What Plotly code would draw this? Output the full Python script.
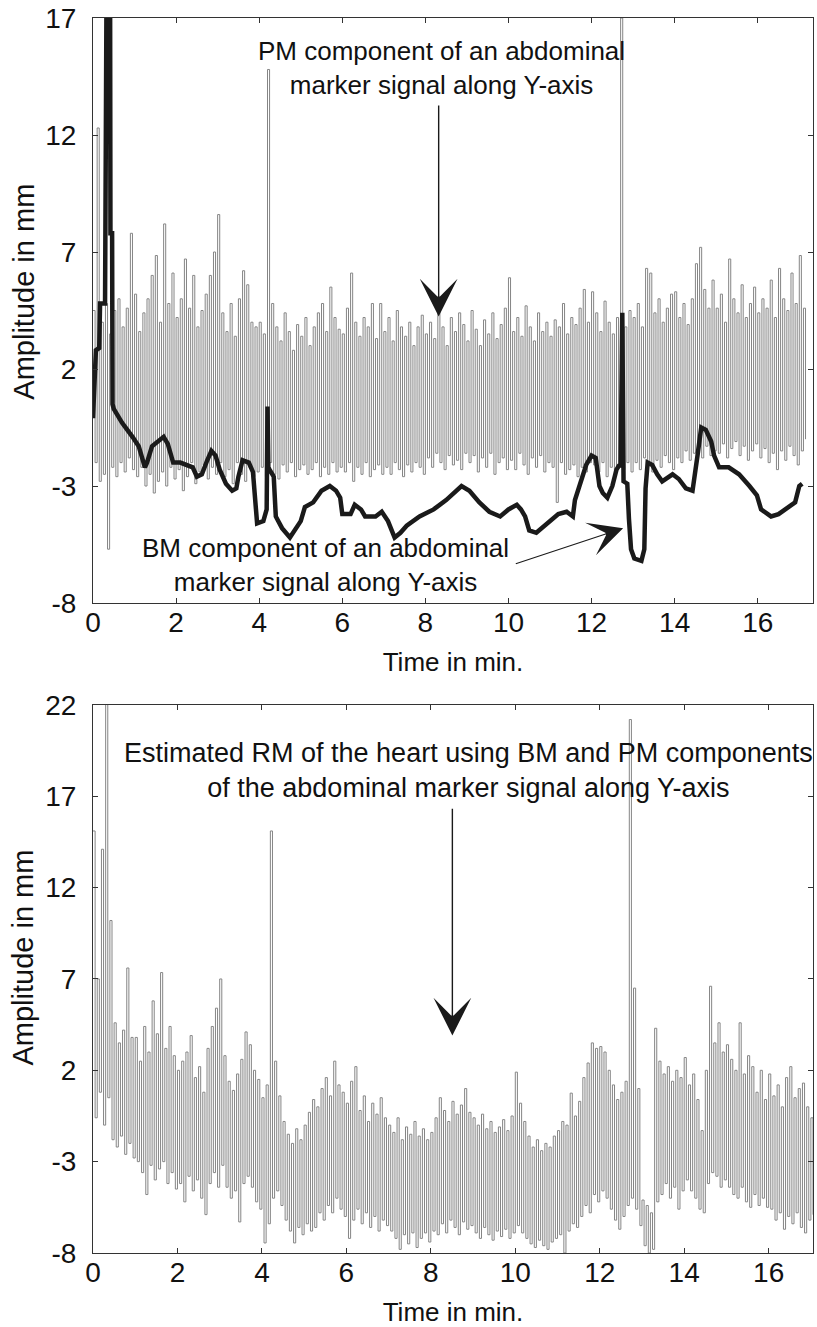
import plotly.graph_objects as go

# ---------------- data ----------------
CYCLE_MIN = 0.1  # spacing of the sampled breathing cycles, in minutes

# PM component (top panel, grey): peak / trough of each cycle
pm_peaks = [
    4.5, 12.3, 4.0, 4.8, 3.5, 4.5, 5.0, 3.8, 4.6, 7.8,
    5.2, 3.6, 4.4, 5.0, 6.0, 6.85, 4.0, 8.2, 4.8, 6.1,
    4.2, 5.0, 6.7, 4.6, 6.0, 3.8, 4.5, 5.2, 6.0, 7.0,
    8.6, 4.4, 3.6, 4.8, 3.4, 5.0, 6.2, 5.6, 4.0, 3.8,
    4.0, 3.5, 14.8, 4.8, 3.8, 3.2, 4.4, 3.6, 2.8, 3.9,
    3.4, 4.2, 3.0, 3.8, 4.4, 4.8, 3.6, 5.5, 4.2, 3.7,
    3.5, 4.6, 6.1, 4.0, 3.4, 4.2, 3.8, 4.8, 3.3, 4.8,
    3.6, 4.2, 3.2, 4.5, 3.8, 3.4, 4.0, 3.0, 3.8, 4.3,
    3.5, 4.0, 3.3, 4.5, 3.8, 3.0, 4.2, 3.6, 4.4, 3.9,
    3.2, 4.5, 3.7, 3.0, 4.1, 3.5, 4.4, 3.3, 3.9, 4.6,
    5.9, 3.6, 4.2, 3.4, 4.7, 3.8, 3.2, 4.4, 3.6, 4.0,
    3.4, 4.1, 3.8, 4.8, 3.5, 4.2, 3.9, 4.6, 5.4, 4.0,
    5.3, 4.4, 3.6, 4.9, 4.0, 3.5, 4.2, 17.0, 3.8, 4.5,
    4.2, 4.8, 3.8, 6.3, 6.1, 4.4, 5.0, 4.0, 4.6, 5.2,
    5.3, 4.2, 4.8, 3.9, 5.0, 6.5, 7.2, 5.4, 4.6, 5.8,
    4.6, 5.2, 4.0, 6.7, 5.0, 4.4, 5.6, 4.2, 4.8, 5.5,
    4.4, 5.0, 4.6, 5.8, 4.2, 6.3, 5.0, 4.5, 6.1, 4.8, 6.85, 4.6,
]
pm_troughs = [
    -2.0, -2.8, -2.5, -5.7, -2.2, -2.6, -2.0, -2.4, -1.8, -2.3,
    -2.6, -2.2, -3.0, -2.5, -3.3, -2.8, -2.4, -3.0, -2.2, -2.7,
    -2.3, -3.2, -2.6, -2.0, -2.9, -2.4, -2.1, -2.7, -2.2, -2.5,
    -2.0, -2.6, -2.3, -2.9, -2.0, -2.5, -2.8, -2.2, -2.6, -2.4,
    -2.2, -2.6, -2.0, -2.5, -2.7, -2.1, -2.4, -2.0, -2.6, -2.3,
    -2.1, -2.5, -2.3, -2.0, -2.6, -2.2, -2.5, -2.0, -2.4, -2.2,
    -2.4, -2.0, -2.8, -2.2, -2.5, -2.0, -2.6, -2.3, -2.1, -2.5,
    -2.2, -2.5, -2.0, -2.3, -2.6, -2.1, -2.4, -2.0, -2.2, -2.5,
    -1.8, -2.2, -1.6, -2.0, -2.3, -1.7, -2.1, -1.9, -2.3, -1.6,
    -2.0, -1.7, -2.4, -1.8, -2.2, -1.6, -2.5, -2.0, -1.8, -2.3,
    -1.9, -2.3, -1.6, -2.1, -2.5, -1.8, -2.2, -1.7, -2.4, -2.0,
    -2.2, -3.7, -2.0, -2.5, -2.3, -2.1, -2.6, -2.2, -2.4, -2.0,
    -2.1, -2.4, -2.0, -2.6, -2.2, -2.5, -2.1, -2.3, -2.0, -2.4,
    -2.0, -2.3, -1.8, -2.1, -2.4, -1.9, -2.2, -1.7, -2.0, -2.3,
    -1.8, -2.0, -1.5, -1.9, -1.6, -1.4, -1.8, -1.3, -1.7, -1.5,
    -1.6, -1.2, -1.8, -1.4, -1.1, -1.7, -1.3, -1.9, -1.5, -1.2,
    -1.8, -1.4, -2.0, -1.6, -2.3, -1.5, -1.9, -1.3, -1.7, -2.1, -1.5, -1.0,
]

# BM component (top panel, thick black)
bm_time = [
    0.0, 0.02, 0.03, 0.06, 0.07, 0.15, 0.17, 0.29, 0.31, 0.33, 0.41, 0.42,
    0.46, 0.47, 0.5, 0.7, 0.95, 1.1, 1.25, 1.3, 1.42, 1.55, 1.7, 1.8, 1.93,
    2.1, 2.25, 2.4, 2.5, 2.62, 2.75, 2.85, 2.95, 3.05, 3.2, 3.35, 3.45, 3.5,
    3.6, 3.75, 3.85, 3.9, 3.95, 4.1, 4.15, 4.18, 4.2, 4.22, 4.25, 4.35, 4.4,
    4.55, 4.74, 4.9, 5.0, 5.1, 5.3, 5.5, 5.7, 5.85, 5.95, 6.0, 6.2, 6.3,
    6.45, 6.55, 6.8, 6.95, 7.1, 7.26, 7.4, 7.55, 7.86, 8.2, 8.5, 8.87, 9.06,
    9.3, 9.54, 9.8, 10.0, 10.2, 10.3, 10.4, 10.5, 10.67, 10.95, 11.2, 11.4,
    11.55, 11.6, 11.75, 11.87, 12.0, 12.1, 12.19, 12.27, 12.38, 12.5, 12.6,
    12.67, 12.7, 12.72, 12.74, 12.77, 12.86, 12.9, 12.95, 13.03, 13.2, 13.27,
    13.3, 13.35, 13.46, 13.58, 13.7, 13.95, 14.1, 14.27, 14.43, 14.55, 14.64,
    14.75, 14.88, 14.95, 15.07, 15.3, 15.55, 15.8, 15.98, 16.08, 16.32, 16.5,
    16.67, 16.9, 17.0, 17.07,
]
bm_values = [
    -0.1, 1.1, 1.1, 2.6, 2.8, 2.9, 4.8, 4.8, 20.0, 20.0, 20.0, 7.8,
    7.8, 0.5, 0.3, -0.3, -0.9, -1.3, -2.2, -2.0, -1.3, -1.1, -0.9, -1.2, -2.0,
    -2.0, -2.1, -2.2, -2.6, -2.5, -1.9, -1.5, -1.7, -2.3, -2.9, -3.2, -3.1, -2.6,
    -1.9, -2.0, -2.4, -3.8, -4.6, -4.5, -4.1, -4.0, 0.4, -2.2, -2.3, -2.6, -4.3,
    -4.8, -5.2, -4.8, -4.5, -3.9, -3.7, -3.2, -3.0, -3.2, -3.5, -4.2, -4.2, -3.8,
    -4.0, -4.3, -4.3, -4.1, -4.5, -5.2, -5.0, -4.7, -4.3, -4.0, -3.6, -3.0, -3.2,
    -3.7, -4.1, -4.3, -4.0, -3.8, -4.0, -4.3, -4.9, -5.0, -4.6, -4.2, -4.1,
    -4.3, -3.6, -2.8, -2.1, -1.7, -1.8, -3.0, -3.3, -3.5, -3.0, -2.3,
    -2.1, -2.2, 4.4, 4.4, -2.8, -2.9, -4.4, -5.7, -6.1, -6.2, -5.7,
    -3.1, -2.0, -2.1, -2.5, -2.8, -2.5, -2.7, -3.1, -3.2, -1.7, -0.5,
    -0.6, -1.1, -1.7, -2.2, -2.2, -2.5, -3.0, -3.4, -4.0, -4.3, -4.2,
    -4.0, -3.7, -3.0, -2.9,
]

# Estimated RM of the heart (bottom panel): peak / trough of each cycle
rm_peaks = [
    15.1, 7.0, 14.1, 23.0, 10.2, 4.6, 3.5, 4.2, 7.6, 3.8,
    3.8, 2.5, 4.4, 3.0, 5.8, 4.0, 7.35, 3.2, 4.4, 2.8,
    2.0, 2.5, 3.0, 3.9, 1.6, 2.2, 0.8, 3.2, 4.4, 5.4,
    7.0, 2.8, 1.4, 0.9, 1.8, 2.6, 4.1, 3.4, 2.0, 1.5,
    0.5, 1.2, 15.1, 2.5, 0.6, -0.8, -1.5, -2.0, -1.2, -1.8,
    -1.0, -0.3, 0.4, 0.0, 1.0, 1.6, 0.6, 2.5, 1.2, 0.8,
    0.2, 1.4, 2.2, -0.2, 0.6, -0.8, 0.2, -0.4, 0.5, -0.6,
    -1.0, -1.4, -0.6, -1.8, -1.1, -1.5, -0.8, -1.6, -1.2, -1.8,
    -1.4, -0.6, 0.5, -0.2, -0.8, 0.3, -0.4, 0.1, 1.0, -0.3,
    -0.6, -1.0, -0.4, -1.2, -0.8, -1.4, -1.1, -0.7, -1.3, -0.5,
    1.9, 0.2, -0.8, -1.6, -2.2, -1.8, -2.4, -2.0, -2.2, -1.6,
    -1.3, -0.8, -1.0, 0.75, -0.5, 0.3, 1.6, 2.4, 3.5, 3.2,
    3.3, 3.0, 2.0, 1.2, 0.4, 0.8, 1.4, 21.2, 6.5, 1.0,
    -5.1, -5.4, -5.8, 4.3, 2.5, 1.8, 2.2, 1.4, 2.0, 1.6,
    2.7, 1.2, 1.8, 0.4, -1.3, 2.0, 6.6, 3.5, 4.6, 3.0,
    3.4, 2.6, 2.0, 4.6, 1.8, 2.8, 2.2, 0.8, 2.0, 0.4,
    1.8, 0.6, 1.2, 0.0, 1.6, 2.2, 0.5, 1.0, 1.3, 0.0, -0.6,
]
rm_troughs = [
    -0.6, 0.8, -1.0, 0.5, -1.8, -2.2, -1.6, -2.6, -2.0, -2.8,
    -3.0, -3.6, -4.8, -3.2, -4.0, -3.4, -3.0, -4.2, -3.6, -4.5,
    -4.2, -5.2, -3.8, -4.6, -4.0, -5.0, -5.9, -4.2, -3.6, -4.4,
    -3.2, -4.4, -5.0, -4.6, -6.3, -4.2, -3.8, -4.4, -5.2, -5.6,
    -7.45, -6.4, -5.0, -4.6, -5.4, -6.2, -6.8, -7.45, -6.6, -7.0,
    -6.4, -6.8, -6.6, -5.8, -6.2, -5.4, -5.8, -5.0, -5.6, -6.0,
    -7.2, -6.2, -5.6, -6.4, -5.8, -6.6, -6.0, -6.8, -6.2, -6.5,
    -6.8, -7.2, -7.8, -7.0, -7.5, -6.9, -7.7, -7.2, -6.9, -7.4,
    -6.8, -7.0, -6.4, -6.9, -6.2, -6.6, -7.0, -6.3, -6.7, -6.5,
    -6.9, -7.2, -6.6, -7.0, -7.3, -6.8, -7.1, -6.7, -7.2, -6.9,
    -6.5, -6.9, -7.2, -7.5, -7.7, -7.3, -7.6, -7.8, -7.4, -7.2,
    -7.0, -8.0, -6.8, -6.4, -6.6, -6.0, -5.4, -5.8, -4.8, -5.2,
    -4.6, -5.0, -5.6, -6.2, -6.7, -6.0, -5.4, -5.0, -5.6, -6.5,
    -7.6, -8.0, -7.8, -5.2, -4.8, -4.2, -5.0, -4.4, -5.6, -4.6,
    -4.0, -4.6, -5.0, -5.6, -5.8, -4.2, -3.6, -3.8, -4.4, -4.0,
    -4.4, -4.8, -5.0, -4.4, -5.2, -5.5, -4.8, -5.4, -5.0, -5.5,
    -5.6, -6.2, -5.8, -6.7, -6.0, -6.4, -5.8, -6.6, -6.9, -6.2, -5.9,
]

x_ticks = [0, 2, 4, 6, 8, 10, 12, 14, 16]
y_ticks_top = [-8, -3, 2, 7, 12, 17]
y_ticks_bottom = [-8, -3, 2, 7, 12, 17, 22]

TOP_TEXT = "PM component of an abdominal<br>marker signal along Y-axis"
BM_TEXT = "BM component of an abdominal<br>marker signal along Y-axis"
BOTTOM_TEXT = ("Estimated RM of the heart using BM and PM components<br>"
               "of the abdominal marker signal along Y-axis")
X_TITLE = "Time in min."
Y_TITLE = "Amplitude in mm"


def zigzag(peaks, troughs):
    xs, ys = [], []
    for i, (p, q) in enumerate(zip(peaks, troughs)):
        t = i * CYCLE_MIN
        xs += [t, t + CYCLE_MIN / 2]
        ys += [p, q]
    return xs, ys


FONT = "Arial, 'Liberation Sans', Helvetica, sans-serif"
GREY = "#858585"
AX = "#333333"

fig = go.Figure()

pm_x, pm_y = zigzag(pm_peaks, pm_troughs)
fig.add_trace(go.Scatter(x=pm_x, y=pm_y, mode="lines",
                         line=dict(color=GREY, width=1, shape="hv"),
                         xaxis="x", yaxis="y", showlegend=False))
fig.add_trace(go.Scatter(x=bm_time, y=bm_values, mode="lines",
                         line=dict(color="#1a1a1a", width=4.5),
                         xaxis="x", yaxis="y", showlegend=False))

rm_x, rm_y = zigzag(rm_peaks, rm_troughs)
fig.add_trace(go.Scatter(x=rm_x, y=rm_y, mode="lines",
                         line=dict(color=GREY, width=1, shape="hv"),
                         xaxis="x2", yaxis="y2", showlegend=False))

axis_common = dict(showline=True, linecolor=AX, linewidth=1, mirror="ticks",
                   ticks="inside", ticklen=5, tickwidth=1, tickcolor=AX,
                   showgrid=False, zeroline=False,
                   tickfont=dict(family=FONT, size=28, color="#111"))


def labels(vals):
    return [str(v) for v in vals]


fig.update_layout(
    width=817, height=1327,
    margin=dict(l=93, r=3, t=16, b=74),
    plot_bgcolor="white", paper_bgcolor="white",
    font=dict(family=FONT, color="#111"),
    xaxis=dict(domain=[0, 1], anchor="y", range=[0, 17.33], tickvals=x_ticks,
               ticktext=labels(x_ticks), ticklabelstandoff=-6,
               title=dict(text=X_TITLE, font=dict(size=26), standoff=16),
               **axis_common),
    yaxis=dict(domain=[0.5263, 1], anchor="x", range=[-8, 17], tickvals=y_ticks_top,
               ticktext=labels(y_ticks_top), ticklabelstandoff=10,
               **axis_common),
    xaxis2=dict(domain=[0, 1], anchor="y2", range=[0, 17.05], tickvals=x_ticks,
                ticktext=labels(x_ticks), ticklabelstandoff=-6,
                title=dict(text=X_TITLE, font=dict(size=26), standoff=16),
                **axis_common),
    yaxis2=dict(domain=[0, 0.4438], anchor="x2", range=[-8, 22], tickvals=y_ticks_bottom,
                ticktext=labels(y_ticks_bottom), ticklabelstandoff=10,
                **axis_common),
)

# y-axis titles (placed like the reference, a little above centre)
for ycen in (0.7785, 0.2393):
    fig.add_annotation(x=-0.0971, y=ycen, xref="paper", yref="paper",
                       text=Y_TITLE, textangle=-90, showarrow=False,
                       xanchor="center", yanchor="middle",
                       font=dict(size=29, color="#111"))

# text labels
fig.add_annotation(x=8.39, y=14.87, xref="x", yref="y", text=TOP_TEXT,
                   showarrow=False, font=dict(size=26, color="#111"))
fig.add_annotation(x=5.6, y=-6.36, xref="x", yref="y", text=BM_TEXT,
                   showarrow=False, font=dict(size=26, color="#111"))
fig.add_annotation(x=8.89, y=18.39, xref="x2", yref="y2", text=BOTTOM_TEXT,
                   showarrow=False, font=dict(size=27, color="#111"))

# arrows
fig.add_annotation(x=8.32, y=4.24, ax=8.32, ay=13.33, xref="x", yref="y",
                   axref="x", ayref="y", text="", showarrow=True,
                   arrowhead=3, arrowsize=4.5, arrowwidth=1.4, arrowcolor="#1a1a1a",
                   standoff=0)
fig.add_annotation(x=12.76, y=-4.8, ax=10.14, ay=-6.34, xref="x", yref="y",
                   axref="x", ayref="y", text="", showarrow=True,
                   arrowhead=3, arrowsize=5.2, arrowwidth=1.1, arrowcolor="#1a1a1a",
                   standoff=0)
fig.add_annotation(x=8.51, y=3.9, ax=8.51, ay=16.4, xref="x2", yref="y2",
                   axref="x2", ayref="y2", text="", showarrow=True,
                   arrowhead=3, arrowsize=4.5, arrowwidth=1.4, arrowcolor="#1a1a1a",
                   standoff=0)

fig.write_html(
    "out.html",
    config={"displayModeBar": False},
    post_script="document.body.style.margin='0';document.body.style.overflow='hidden';",
)
